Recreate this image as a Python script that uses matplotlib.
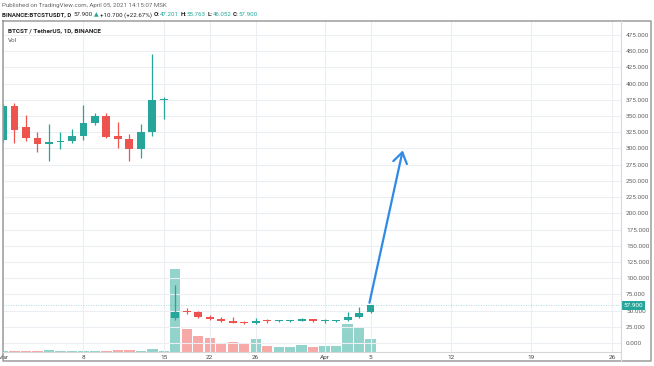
import matplotlib
matplotlib.use("Agg")
import matplotlib.pyplot as plt
import matplotlib.transforms as mtransforms
from matplotlib.lines import Line2D

plt.rcParams['font.family'] = ['Roboto', 'DejaVu Sans']

# daily candles, bar index 0 = Mar 1 (no bars for Mar 16-18)
opens  = [313, 365, 333, 316, 307, 309.5, 311, 319, 340, 350, 319, 314, 299, 326, 375,
          38, 49, 48, 39.5, 37, 34, 32.5, 31, 34.3, 33.5, 33.5, 34.5, 36.5, 33.6, 33.5, 35, 40, 47.201]
highs  = [368, 370, 352, 326, 337, 326, 330, 367, 355, 355, 341, 322, 338, 445, 379,
          90, 53.5, 50, 43, 40.5, 39.5, 34, 38, 36.5, 35.5, 36, 38, 37.5, 37, 36, 48.3, 55, 58.8]
lows   = [310, 308, 312, 295, 281, 299, 309, 313, 336, 316, 300, 281, 285, 319, 346,
          36, 44.7, 38, 35.5, 32, 30.3, 29.8, 29.3, 31.3, 32.5, 32.8, 33.5, 33, 31.5, 33, 34.5, 39, 46.052]
closes = [365, 328, 316, 307, 310, 311, 319, 339, 350, 318, 314, 299, 326, 374, 376,
          48, 48, 40, 36.5, 34, 31.5, 30.5, 34, 33.5, 34, 35, 37, 33.5, 34, 35.5, 40, 47, 57.9]
volumes = [15, 15, 15, 15, 20, 15, 15, 15, 15, 15, 20, 20, 15, 30, 10,
           827, 227, 160, 140, 87, 100, 90, 130, 63, 47, 47, 70, 53, 57, 63, 280, 237, 127]

tick_pos = [0, 7, 14, 18, 22, 28, 32, 39, 46, 53]
tick_labels = ['Mar', '8', '15', '22', '26', 'Apr', '5', '12', '19', '26']
price_ticks = list(range(0, 476, 25))

last_close = 57.9
arrow_start = (31.9, 62)
arrow_end = (34.8, 297)

up = '#26a69a'
down = '#ef5350'
up_vol = '#92d3cc'
down_vol = '#f7a9a7'

W, H = 654, 366
fig = plt.figure(figsize=(W / 100, H / 100), dpi=100)
ax = fig.add_axes([3 / W, 1 - 352 / H, 618 / W, 332 / H])
vax = ax.twinx()
ax.set_zorder(vax.get_zorder() + 1)
ax.patch.set_visible(False)

n = len(closes)
idx = list(range(n))
vcols = [up_vol if closes[i] >= opens[i] else down_vol for i in idx]
vax.bar(idx, volumes, width=0.9, color=vcols, linewidth=0)
vax.set_ylim(0, 3320)
vax.set_yticks([])
for s in vax.spines.values():
    s.set_visible(False)

cols = [up if closes[i] >= opens[i] else down for i in idx]
ax.vlines(idx, lows, highs, colors=cols, linewidth=0.9, zorder=3)
bottoms = [min(opens[i], closes[i]) for i in idx]
heights = [max(abs(closes[i] - opens[i]), 1.3) for i in idx]
ax.bar(idx, heights, bottom=bottoms, width=0.68, color=cols, linewidth=0, zorder=4)

ax.axhline(last_close, color=up, lw=0.6, ls=(0, (1, 2)), alpha=0.5, zorder=2)

ax.annotate('', xy=arrow_end, xytext=arrow_start,
            arrowprops=dict(arrowstyle='->,head_length=0.75,head_width=0.5',
                            color='#2f8ae6', lw=1.6, shrinkA=0, shrinkB=0), zorder=6)

ax.set_xlim(0.07, 53.8)
ax.set_ylim(-13.9, 498.1)
ax.yaxis.tick_right()
ax.set_yticks(price_ticks, ['%.3f' % v for v in price_ticks])
ax.set_xticks(tick_pos, tick_labels)
ax.tick_params(axis='y', length=0, pad=3.6, labelsize=4.6, labelcolor='#606060')
ax.tick_params(axis='x', length=0, pad=2.2, labelsize=4.6, labelcolor='#444444')
ax.grid(True, color='#eceef3', lw=0.8)
ax.set_axisbelow(True)
for s in ax.spines.values():
    s.set_visible(False)

trans = mtransforms.blended_transform_factory(ax.transAxes, ax.transData)
ax.text(1.004, last_close, '%.3f' % last_close, transform=trans, ha='left', va='center',
        fontsize=4.6, color='white',
        bbox=dict(boxstyle='square,pad=0.3', fc=up, ec='none'), zorder=7)

# frame around the chart
def fline(xs, ys, color, lw):
    fig.add_artist(Line2D([x / W for x in xs], [1 - y / H for y in ys],
                          color=color, lw=lw, transform=fig.transFigure))

fline([3, 651, 651, 3, 3], [20.5, 20.5, 361, 361, 20.5], '#9c9c9c', 1.1)
fline([621, 621], [20.5, 361], '#d8d8d8', 0.8)
fline([3, 621], [352, 352], '#d8d8d8', 0.8)

# header
fig.text(2 / W, 1 - 5.5 / H, 'Published on TradingView.com, April 05, 2021 14:15:07 MSK',
         fontsize=4.4, color='#666666', va='center')

renderer = fig.canvas.get_renderer()
# (text, colour, weight, gap after in px)
pieces = [('BINANCE:BTCSTUSDT, D', '#222222', 'bold', 2), ('57.900', '#222222', 'normal', 1.5),
          ('\u25b2', up, 'normal', 1.5), ('+10.700 (+22.67%)', '#222222', 'normal', 1.5),
          ('O:', '#222222', 'bold', 0.3), ('47.201', up, 'normal', 1.5),
          ('H:', '#222222', 'bold', 0.3), ('55.763', up, 'normal', 1.5),
          ('L:', '#222222', 'bold', 0.3), ('46.052', up, 'normal', 1.5),
          ('C:', '#222222', 'bold', 0.3), ('57.900', up, 'normal', 0)]
x = 2.0
for s, c, wgt, gap in pieces:
    t = fig.text(x / W, 1 - 15 / H, s, fontsize=4.4, color=c, weight=wgt, va='center')
    x += t.get_window_extent(renderer).width + gap

fig.text(8 / W, 1 - 31 / H, 'BTCST / TetherUS, 1D, BINANCE', fontsize=4.6, color='#222222',
         weight='bold', va='center')
fig.text(8 / W, 1 - 40.5 / H, 'Vol', fontsize=4.6, color='#555555', va='center')

fig.savefig('out.png', dpi=100)
